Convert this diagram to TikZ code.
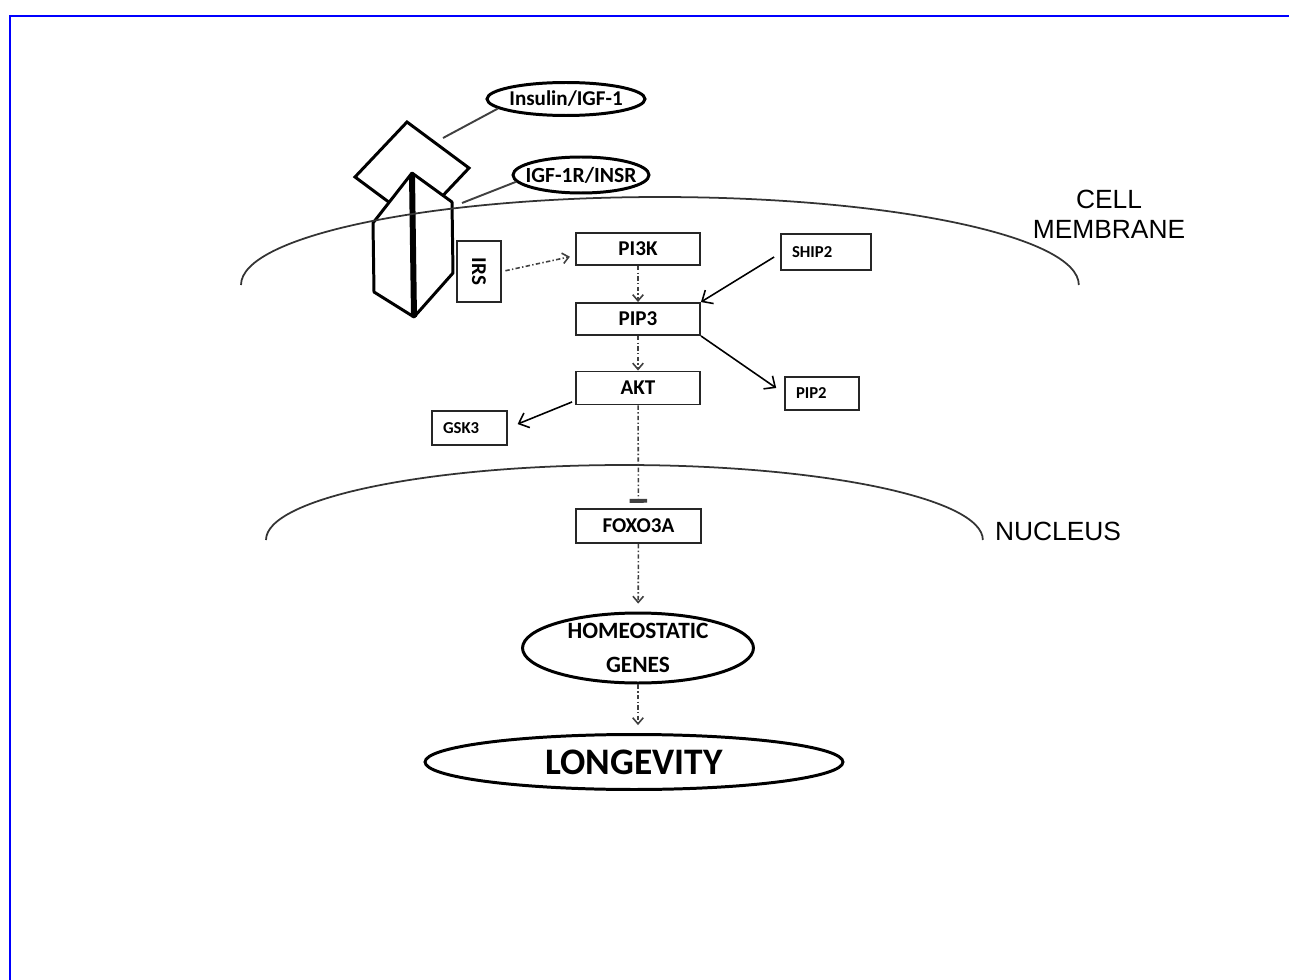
\documentclass[tikz,border=0pt]{standalone}
\usepackage{fontspec}
\setmainfont{Carlito}
\newfontfamily\arialf{Liberation Sans}
\usetikzlibrary{arrows.meta,shapes.geometric,calc}
\begin{document}
\begin{tikzpicture}[x=0.02cm,y=-0.02cm,
 box/.style={draw=black!85, line width=1.1pt, rectangle, inner sep=0pt, font=\bfseries\fontsize{12}{14}\selectfont},
 smallbox/.style={draw=black!85, line width=1pt, rectangle, inner xsep=0.22cm, inner ysep=0pt, align=left, font=\bfseries\fontsize{9.5}{11}\selectfont},
 oval/.style={draw=black, line width=1.7pt, ellipse, inner sep=0pt},
 flow/.style={draw=black!75, line width=0.9pt, dash pattern=on 2.5pt off 1.3pt on 0.8pt off 1.3pt, -{Straight Barb[length=3.5pt,width=6pt]}},
 act/.style={draw=black, line width=0.9pt, -{Straight Barb[length=5pt,width=9pt]}},
 memb/.style={draw=black!80, line width=1pt},
 lead/.style={draw=black!75, line width=1.1pt},
 lbl/.style={font=\arialf\fontsize{15}{17}\selectfont, align=center}
]
\useasboundingbox (0,0) rectangle (1289,980);
\draw[blue, line width=1.7pt] (10,980) -- (10,16) -- (1289,16);

% receptor and ligand
\draw[line width=1.7pt, fill=white, line join=miter] (407,122) -- (469,168) -- (417,223) -- (355,177) -- cycle;
\draw[line width=1.7pt, fill=white, line join=round] (412,173) -- (452,202) -- (453,273) -- (414,317) -- (374,292) -- (373,223) -- cycle;
\draw[line width=3.4pt] (412,175) -- (414,317);

% membranes
\draw[memb] (241,285) arc[start angle=180, end angle=0, x radius=8.38cm, y radius=1.76cm];
\draw[memb] (266,540) arc[start angle=180, end angle=0, x radius=7.17cm, y radius=1.5cm];
\node[lbl] (cm) at (1109,214) {CELL\\MEMBRANE};
\node[lbl] (nuc) at (1058,531) {NUCLEUS};

% ellipses
\node[oval, minimum width=3.16cm, minimum height=0.66cm, font=\bfseries\fontsize{12}{14}\selectfont] (ins) at (566,99) {\makebox[0pt]{Insulin/IGF-1}};
\node[oval, minimum width=2.72cm, minimum height=0.72cm, font=\bfseries\fontsize{12.3}{14}\selectfont] (igf) at (581,175) {\makebox[0pt]{IGF-1R/INSR}};
\coordinate (insT) at (443,138);
\coordinate (igfT) at (462,203);
\draw[lead] (ins.188) -- (insT);
\draw[lead] (igf.186) -- (igfT);

% boxes
\node[box, minimum width=0.88cm, minimum height=1.22cm] (irs) at (479,271.5) {\rotatebox{-90}{IRS}};
\node[box, minimum width=2.48cm, minimum height=0.64cm] (pi3k) at (638,249) {PI3K};
\node[box, minimum width=2.48cm, minimum height=0.64cm] (pip3) at (638,319) {PIP3};
\node[box, minimum width=2.48cm, minimum height=0.66cm] (akt) at (638,388) {AKT};
\node[box, minimum width=2.5cm, minimum height=0.68cm] (foxo) at (638.5,526) {FOXO3A};
\node[smallbox, text width=1.36cm, minimum height=0.72cm] (ship2) at (826,252) {SHIP2};
\node[smallbox, text width=1.04cm, minimum height=0.66cm] (pip2) at (822,393.5) {PIP2};
\node[smallbox, text width=1.06cm, minimum height=0.68cm] (gsk) at (469.5,428) {GSK3};

\node[oval, minimum width=4.62cm, minimum height=1.4cm, align=center, font=\bfseries\fontsize{13.3}{19}\selectfont] (homeo) at (638,648) {HOMEOSTATIC\\GENES};
\node[oval, minimum width=8.36cm, minimum height=1.1cm, font=\bfseries\fontsize{21.3}{24}\selectfont] (long) at (634,762) {\makebox[0pt]{LONGEVITY}};

% connectors
\draw[flow, shorten <=2pt, shorten >=3pt] (irs.east) -- (pi3k.186);
\draw[flow] (pi3k) -- (pip3);
\draw[flow] (pip3) -- (akt);
\draw[act] ([shift={(-6,5)}]ship2.west) -- (pip3.north east);
\draw[act, shorten >=5.5pt] (pip3.south east) -- (pip2.west);
\draw[act, shorten >=6pt] ([shift={(-3,-3.5)}]akt.south west) -- (gsk.east);
\draw[draw=black!75, line width=0.9pt, dash pattern=on 2.5pt off 1.3pt on 0.8pt off 1.3pt, -{Bar[width=10pt,line width=2.2pt]}, shorten >=3pt] (akt) -- (foxo);
\draw[flow, shorten >=4.5pt] (foxo) -- (homeo);
\draw[flow, shorten >=4.5pt] (homeo.south) -- (homeo.south |- long.north);
\end{tikzpicture}
\end{document}
